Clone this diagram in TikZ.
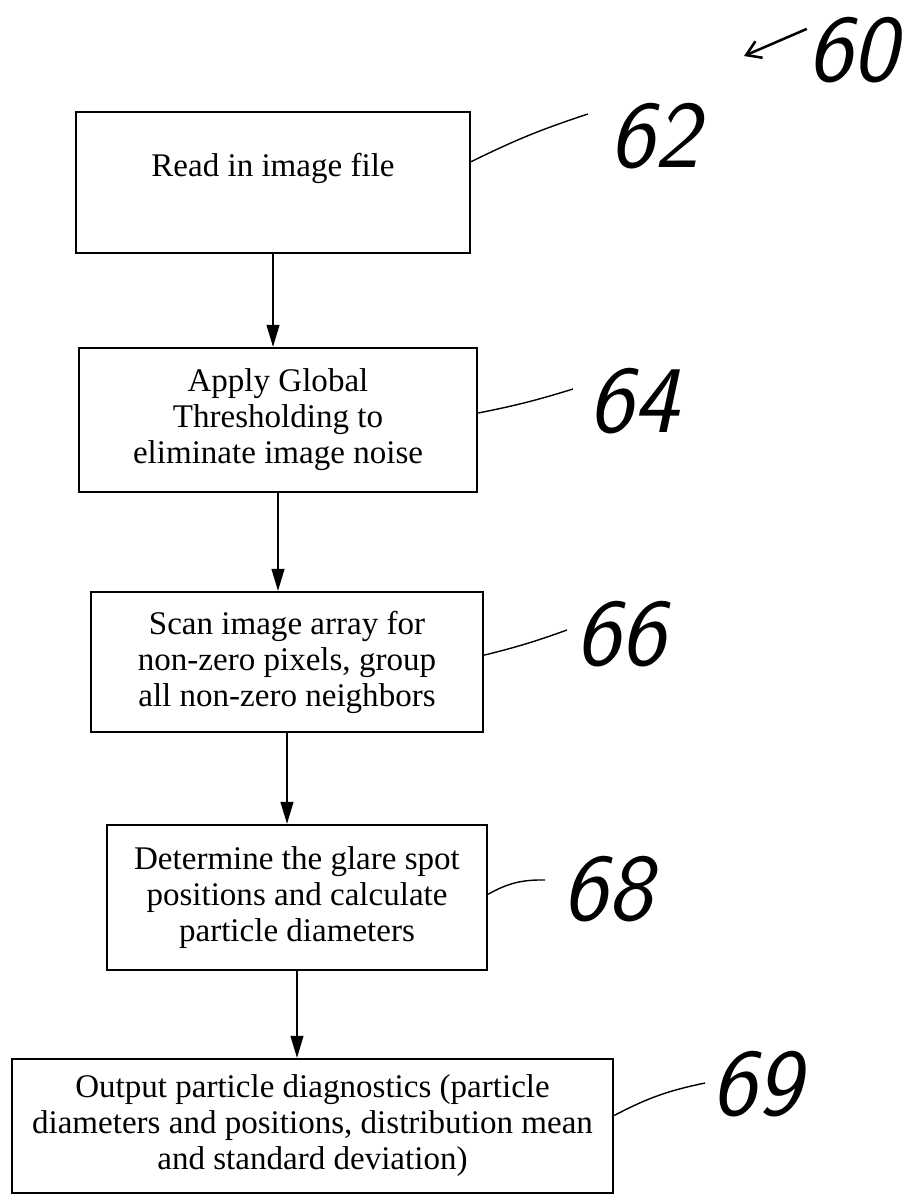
\documentclass[tikz,border=0pt]{standalone}
\usepackage{fontspec}
\setmainfont{Liberation Serif}
\usetikzlibrary{arrows.meta}

\begin{document}
\begin{tikzpicture}[x=0.025cm, y=-0.025cm,
    stepbox/.style={draw, line width=1.6pt, align=center, inner sep=0pt,
        font=\fontsize{23.5}{25.6}\selectfont},
    flow/.style={-{Triangle[length=0.55cm, width=0.32cm]}, line width=1.2pt},
    leader/.style={line width=1pt},
    refnum/.style={font=\sffamily\itshape\fontsize{68}{68}\selectfont, inner sep=0pt}]

    % Fix the page size
    \useasboundingbox (0,0) rectangle (921,1200);

    % Draw the steps of the flow chart
    \node[stepbox, minimum width=9.85cm, minimum height=3.525cm] (read) at (273,182.5)
        {Read in image file\\ \mbox{}};
    \node[stepbox, minimum width=9.95cm, minimum height=3.6cm] (thresh) at (278,420)
        {Apply Global\\Thresholding to\\eliminate image noise};
    \node[stepbox, minimum width=9.8cm, minimum height=3.5cm] (scan) at (287,662)
        {Scan image array for\\non-zero pixels, group\\all non-zero neighbors};
    \node[stepbox, minimum width=9.5cm, minimum height=3.625cm] (glare) at (297,897.5)
        {Determine the glare spot\\positions and calculate\\particle diameters};
    \node[stepbox, minimum width=15.025cm, minimum height=3.35cm] (output) at (312.5,1126)
        {Output particle diagnostics (particle\\diameters and positions, distribution mean\\and standard deviation)};

    % Draw the arrows between the steps
    \draw[flow] (read.south) -- (read.south |- thresh.north);
    \draw[flow] (thresh.south) -- (thresh.south |- scan.north);
    \draw[flow] (scan.south) -- (scan.south |- glare.north);
    \draw[flow] (glare.south) -- (glare.south |- output.north);

    % Reference numerals
    \node[refnum] (n60) at (852,50) {60};
    \node[refnum] (n62) at (654,136) {62};
    \node[refnum] (n64) at (633,401) {64};
    \node[refnum] (n66) at (620,634) {66};
    \node[refnum] (n68) at (607,889) {68};
    \node[refnum] (n69) at (756,1084) {69};

    % Ends of the leader lines
    \coordinate (p60) at (744,56);
    \coordinate (l62) at (588,114);
    \coordinate (l64) at (573,389);
    \coordinate (l66) at (567,630);
    \coordinate (l68) at (545,880);
    \coordinate (l69) at (705,1083);

    % Draw the leader lines
    \draw[line width=1.8pt, -{Straight Barb[length=0.35cm, width=0.45cm]}] (n60.155) -- (p60);
    \draw[leader] (read.6) to[bend left=4] (l62);
    \draw[leader] (thresh.2) to[bend right=3] (l64);
    \draw[leader] (scan.2) to[bend right=3] (l66);
    \draw[leader] (glare.1) to[bend left=15] (l68);
    \draw[leader] (output.2) to[bend left=8] (l69);

\end{tikzpicture}
\end{document}
